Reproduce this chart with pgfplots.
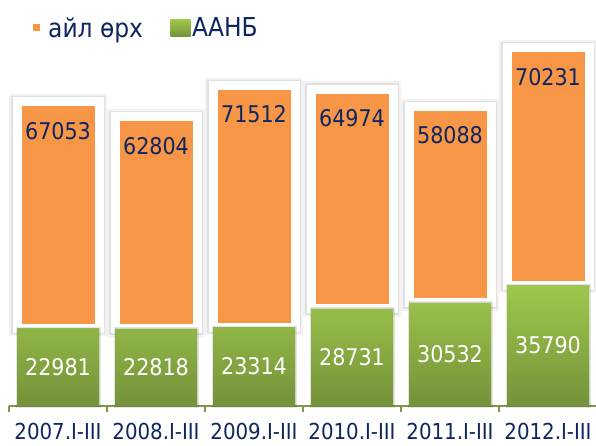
\documentclass[border=0pt]{standalone}
\usepackage{pgfplots}
\usepackage{pgfplotstable}
\pgfplotsset{compat=1.18}
\usepackage{fontspec}
\setmainfont{DejaVu Sans Condensed}
\definecolor{org}{RGB}{247,150,70}
\definecolor{gtop}{RGB}{158,200,76}
\definecolor{gbot}{RGB}{116,146,58}
\definecolor{navy}{RGB}{16,38,96}
\definecolor{axc}{RGB}{125,150,75}
\pgfplotstableread{
x g o
0 22981 67053
1 22818 62804
2 23314 71512
3 28731 64974
4 30532 58088
5 35790 70231
}\datatable
\begin{document}
\begin{tikzpicture}
\path[use as bounding box] (0,0) rectangle (596bp,446bp);
\begin{axis}[
  at={(9bp,40bp)}, anchor=south west,
  scale only axis, width=588bp, height=366bp,
  xmin=-0.5, xmax=5.5, ymin=0, ymax=108300,
  ybar stacked, bar width=82bp,
  clip=false,
  axis x line*=bottom, axis y line=none,
  x axis line style={draw=axc, line width=1.3bp, -},
  ytick=\empty,
  xtick={0,...,5},
  xticklabels={2007.I-III,2008.I-III,2009.I-III,2010.I-III,2011.I-III,2012.I-III},
  major tick length=0pt,
  xticklabel style={anchor=base, yshift=-33bp, font=\fontsize{22bp}{26bp}\selectfont, text=navy},
  extra x ticks={-0.5,0.5,1.5,2.5,3.5,4.5,5.5},
  extra x tick labels={},
  extra x tick style={major tick length=6bp, tick align=outside, tick style={draw=axc, line width=1.3bp}},
  legend columns=2,
  legend style={at={(axis description cs:0,1)}, anchor=west, xshift=17.5bp, yshift=12bp,
    draw=none, fill=none, inner sep=0pt,
    nodes={inner sep=1.5bp, text=navy, font=\fontsize{26bp}{30bp}\selectfont},
    /tikz/every even column/.append style={column sep=26bp}},
]
\addlegendimage{legend image code/.code={\path[draw=none] (0bp,-9bp) rectangle (20bp,9bp); \fill[org, draw=none] (6.5bp,-3.5bp) rectangle (13.5bp,3.5bp);}}
\addlegendentry{айл өрх}
\addlegendimage{legend image code/.code={\shade[draw=none, top color=gtop, bottom color=gbot] (0bp,-8.5bp) rectangle (20bp,8.5bp);}}
\addlegendentry{ААНБ}

\addplot[draw=none, top color=gtop, bottom color=gbot,
  preaction={draw=black, draw opacity=0.10, line width=3bp},
  point meta=explicit symbolic,
  nodes near coords,
  every node near coord/.style={anchor=center, text=white,
    font=\fontsize{23bp}{27bp}\selectfont},
] table[x=x, y=g, meta=g] {\datatable};

\addplot[fill=org, draw=white, line width=9bp,
  preaction={draw=black, draw opacity=0.05, line width=16bp},
  preaction={draw=black, draw opacity=0.07, line width=12bp},
  point meta=explicit symbolic,
  nodes near coords,
  visualization depends on=rawy \as \rawy,
  every node near coord/.style={anchor=center, text=navy,
    font=\fontsize{23bp}{27bp}\selectfont,
    shift={(axis direction cs:0,\rawy/2)}, yshift=-29bp},
] table[x=x, y=o, meta=o] {\datatable};
\end{axis}
\end{tikzpicture}
\end{document}
